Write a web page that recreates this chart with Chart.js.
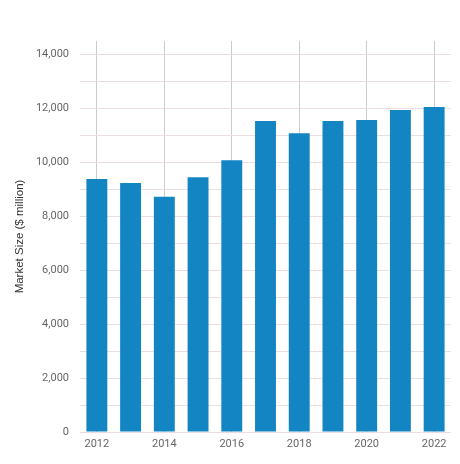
<!DOCTYPE html>
<html lang="en">
<head>
    <meta charset="UTF-8">
    <title>Market Size</title>
    <script src="https://cdn.jsdelivr.net/npm/chart.js"></script>
    <style>
        body {
            margin: 0;
            padding: 0;
            background: #fff;
        }
        .chart-container {
            width: 460px;
            height: 464px;
        }
    </style>
</head>
<body>
    <div class="chart-container">
        <canvas id="marketChart" width="460" height="464"></canvas>
    </div>

    <script>
        // Data
        const years = ['2012', '2013', '2014', '2015', '2016', '2017', '2018', '2019', '2020', '2021', '2022'];
        const marketSize = [9380, 9230, 8720, 9450, 10080, 11530, 11080, 11530, 11570, 11940, 12050];
        // grid lines every 1000, labels every 2000
        const yGridValues = [0, 1000, 2000, 3000, 4000, 5000, 6000, 7000, 8000, 9000, 10000, 11000, 12000, 13000, 14000];
        const yTickLabels = [0, 2000, 4000, 6000, 8000, 10000, 12000, 14000];

        const ctx = document.getElementById('marketChart').getContext('2d');
        const marketChart = new Chart(ctx, {
            type: 'bar',
            data: {
                labels: years,
                datasets: [{
                    label: 'Market Size ($ million)',
                    data: marketSize,
                    backgroundColor: '#1385c3',
                    categoryPercentage: 1,
                    barPercentage: 0.62
                }]
            },
            options: {
                responsive: false,
                animation: false,
                maintainAspectRatio: false,
                layout: { padding: { top: 41, right: 9, bottom: 0, left: 0 } },
                plugins: {
                    legend: { display: false },
                    tooltip: { enabled: false }
                },
                scales: {
                    x: {
                        grid: {
                            offset: false,
                            color: '#cccccc',
                            drawTicks: false
                        },
                        border: { display: false },
                        ticks: {
                            autoSkip: false,
                            maxRotation: 0,
                            color: '#666',
                            padding: 6,
                            font: { family: 'Roboto', size: 11 },
                            // only every other year; null hides the grid line too
                            callback: function (val, i) {
                                return i % 2 === 0 ? years[i] : null;
                            }
                        },
                        afterFit: function (scale) { scale.height = 32; }
                    },
                    y: {
                        min: 0,
                        max: 14500,
                        grid: {
                            color: '#ecdde1',
                            drawTicks: false
                        },
                        border: { display: false },
                        afterBuildTicks: function (scale) {
                            scale.ticks = yGridValues.map(v => ({ value: v }));
                        },
                        ticks: {
                            autoSkip: false,
                            color: '#666',
                            padding: 11,
                            font: { family: 'Roboto', size: 11 },
                            callback: function (val) {
                                return yTickLabels.includes(val) ? val.toLocaleString('en-US') : '';
                            }
                        },
                        title: {
                            display: true,
                            text: 'Market Size ($ million)',
                            color: '#333',
                            font: { family: 'Liberation Sans', size: 11.5 },
                            padding: { top: 13, bottom: 0 }
                        },
                        afterFit: function (scale) { scale.width = 80; }
                    }
                }
            }
        });
    </script>
</body>
</html>
